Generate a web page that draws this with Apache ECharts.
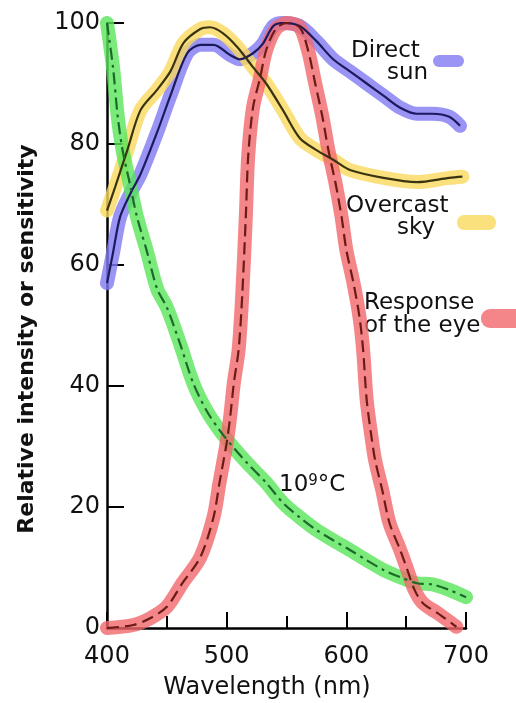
<!DOCTYPE html>
<html>
<head>
<meta charset="utf-8">
<script src="https://cdn.jsdelivr.net/npm/echarts@6/dist/echarts.min.js"></script>
<style>html,body{margin:0;padding:0;background:#fff}#c{width:516px;height:703px}</style>
</head>
<body>
<div id="c"></div>
<script>
// Data (wavelength nm, relative value)
const sunX = [400, 405, 411, 420, 428, 442, 453, 467, 478, 489, 503, 511, 522, 530, 539, 547, 561, 575, 589, 603, 617, 631, 645, 659, 672, 686, 695];
const sunY = [57, 62, 68, 72, 75, 82, 88, 95, 96.4, 96.4, 94.7, 94, 95, 96.5, 99.5, 100, 99.5, 97, 94, 92, 90, 88, 86, 85, 85, 84.5, 83];

const skyX = [400, 407, 417, 428, 442, 453, 464, 478, 486, 497, 509, 522, 533, 547, 561, 575, 589, 603, 631, 659, 686, 697];
const skyY = [69, 73, 79, 85.6, 89, 92, 96.7, 99, 99.3, 98.3, 96, 92.7, 90, 85.6, 81, 79, 77.4, 75.7, 74.4, 73.7, 74.4, 74.6];

const eyeX = [400, 422, 436, 450, 463, 478, 489, 494, 500, 503, 506, 510, 513, 516, 518, 522, 528, 533, 541, 550, 561, 568, 574, 580, 585, 591, 596, 600, 606, 611, 614, 617, 621, 624, 630, 636, 645, 651, 657, 664, 676, 692];
const eyeY = [0, 0.5, 1.6, 3.5, 7.4, 11.7, 18.3, 24, 30.6, 35, 40.5, 46, 55, 68, 78, 86, 91, 95.5, 99, 100, 99.3, 95.5, 90, 84.5, 79, 73.5, 68, 62.5, 57, 51.4, 46, 37.7, 31.6, 27.8, 22.8, 17.4, 12.9, 9.6, 6.3, 4.1, 2.5, 0.2];

const hotX = [400, 405, 409, 413, 419, 425, 433, 442, 450, 461, 472, 483, 494, 505, 517, 533, 547, 561, 575, 589, 603, 617, 631, 645, 659, 672, 686, 700];
const hotY = [100, 92.7, 84.5, 79, 73.5, 68, 62.5, 56, 53, 47, 40.5, 36, 32.7, 30, 27.3, 24, 20.7, 18.3, 16.2, 14.5, 12.9, 11.2, 9.6, 8.4, 7.4, 7.2, 6.3, 5.1];

const xTicks = [400, 500, 600, 700];
const yTicks = [0, 20, 40, 60, 80, 100];

const pairs = (xs, ys) => xs.map((x, i) => [x, ys[i]]);

const FONT = 'DejaVu Sans';
const band = (name, xs, ys, color) => ({
  name: name + ' band', type: 'line', data: pairs(xs, ys), smooth: 0.3, symbol: 'none',
  lineStyle: { width: 14, color: color, cap: 'round', join: 'round' }, z: 2, silent: true
});
const thin = (name, xs, ys, color, dash) => ({
  name: name, type: 'line', data: pairs(xs, ys), smooth: 0.3, symbol: 'none',
  lineStyle: { width: 2.2, color: color, type: dash }, z: 5, silent: true
});

const chart = echarts.init(document.getElementById('c'));
chart.setOption({
  animation: false,
  backgroundColor: '#fff',
  grid: { left: 107, right: 50, top: 23, bottom: 75 },
  xAxis: {
    type: 'value', min: 400, max: 700, interval: 100,
    axisLine: { lineStyle: { color: '#000', width: 2.5 } },
    axisTick: { inside: true, length: 16, lineStyle: { color: '#000', width: 2 } },
    minorTick: { show: true, splitNumber: 2, length: 12, lineStyle: { color: '#000', width: 2 } },
    axisLabel: { fontFamily: FONT, fontSize: 24, color: '#111', margin: 17,
      formatter: v => xTicks.includes(v) ? String(v) : '' },
    splitLine: { show: false }
  },
  yAxis: {
    type: 'value', min: 0, max: 100, interval: 20,
    axisLine: { show: true, lineStyle: { color: '#000', width: 2.5 } },
    axisTick: { show: true, inside: true, length: 17, lineStyle: { color: '#000', width: 2 } },
    axisLabel: { fontFamily: FONT, fontSize: 24, color: '#111', margin: 7,
      formatter: v => yTicks.includes(v) ? String(v) : '' },
    splitLine: { show: false }
  },
  series: [
    band('Direct sun', sunX, sunY, 'rgba(129,121,241,0.8)'),
    band('Overcast sky', skyX, skyY, 'rgba(250,216,94,0.8)'),
    band('10⁹°C', hotX, hotY, 'rgba(89,229,89,0.8)'),
    band('Response of the eye', eyeX, eyeY, 'rgba(241,104,109,0.8)'),
    thin('Direct sun', sunX, sunY, '#1c1a5e', 'solid'),
    thin('Overcast sky', skyX, skyY, '#3a3310', 'solid'),
    thin('10⁹°C', hotX, hotY, '#1a6a2a', [12, 5, 3, 5]),
    thin('Response of the eye', eyeX, eyeY, '#6b1a14', [12, 6])
  ],
  graphic: [
    { type: 'text', x: 267, y: 688, style: { text: 'Wavelength (nm)', font: '24px ' + FONT, fill: '#111', align: 'center', verticalAlign: 'middle' } },
    { type: 'text', x: 27, y: 339, rotation: Math.PI / 2, style: { text: 'Relative intensity or sensitivity', font: 'bold 22px ' + FONT, fill: '#111', align: 'center', verticalAlign: 'middle' } },
    { type: 'text', left: 351, top: 40, style: { text: 'Direct', font: '23px ' + FONT, fill: '#111' } },
    { type: 'text', left: 387, top: 62, style: { text: 'sun', font: '23px ' + FONT, fill: '#111' } },
    { type: 'rect', shape: { x: 433, y: 55, width: 31, height: 12, r: 6 }, style: { fill: '#9a94f4' } },
    { type: 'text', left: 346, top: 195, style: { text: 'Overcast', font: '23px ' + FONT, fill: '#111' } },
    { type: 'text', left: 397, top: 217, style: { text: 'sky', font: '23px ' + FONT, fill: '#111' } },
    { type: 'rect', shape: { x: 457, y: 215, width: 39, height: 15, r: 7 }, style: { fill: '#fbe07e' } },
    { type: 'text', left: 364, top: 292, style: { text: 'Response', font: '23px ' + FONT, fill: '#111' } },
    { type: 'text', left: 364, top: 315, style: { text: 'of the eye', font: '23px ' + FONT, fill: '#111' } },
    { type: 'rect', shape: { x: 481, y: 309, width: 44, height: 19, r: 9 }, style: { fill: '#f4868a' } },
    { type: 'text', left: 279, top: 474, style: {
        text: '{a|10}{s|9}{a|°C}',
        rich: {
          a: { fontFamily: FONT, fontSize: 23, fill: '#111', verticalAlign: 'bottom' },
          s: { fontFamily: FONT, fontSize: 15, fill: '#111', verticalAlign: 'top', padding: [0, 0, 8, 0] }
        } } }
  ]
});
</script>
</body>
</html>
